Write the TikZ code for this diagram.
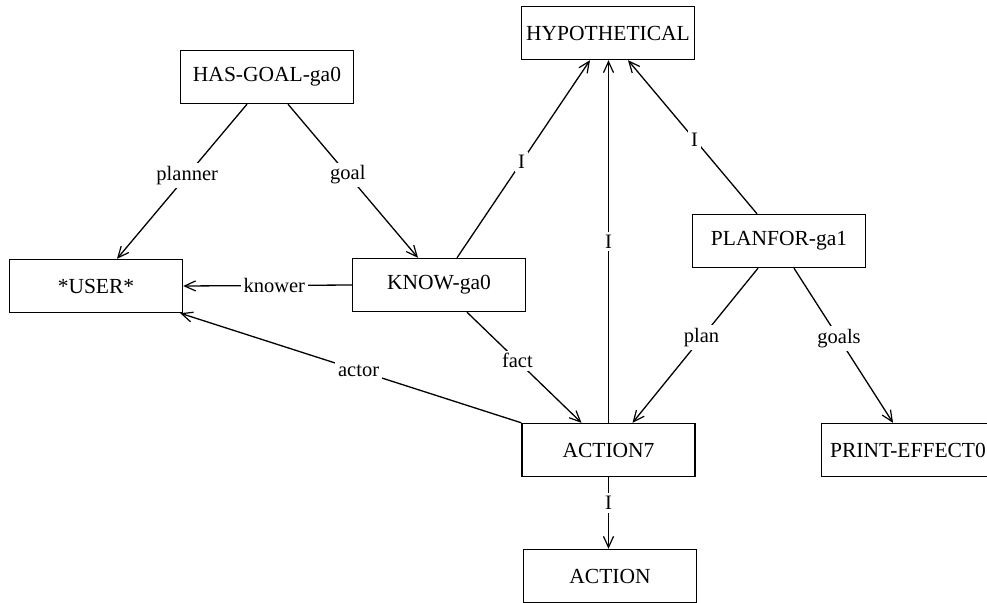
\documentclass[tikz,border=0pt]{standalone}
\usepackage{fontspec}
\setmainfont{Liberation Serif}
\usetikzlibrary{arrows.meta}
\begin{document}
\begin{tikzpicture}[x=1pt,y=-1pt,
  concept/.style={draw, line width=1.4pt, minimum width=173pt, minimum height=53pt,
    inner sep=0pt, font=\fontsize{21.5}{25}\selectfont},
  link/.style={line width=1.3pt,
    -{Straight Barb[length=11pt,width=10pt,line width=1.2pt]}},
  rel/.style={fill=white, inner sep=3pt, font=\fontsize{20.5}{24}\selectfont}]
\useasboundingbox (0,0) rectangle (987,602);
\clip (0,0) rectangle (987,602);

% concepts
\node[concept] (hypo)    at (608,33)    {HYPOTHETICAL};
\node[concept] (hasgoal) at (267,77)    {HAS-GOAL-ga0};
\node[concept] (user)    at (96,286)    {*USER*};
\node[concept] (know)    at (439,285)   {KNOW-ga0};
\node[concept] (planfor) at (779,241)   {PLANFOR-ga1};
\node[concept] (act7)    at (608.5,450) {ACTION7};
\node[concept] (action)  at (610,576)   {ACTION};
\node[concept] (print)   at (908,450)   {PRINT-EFFECT0};

% relations
\draw[link] ([xshift=-20pt]hasgoal.south) -- node[rel,pos=0.46] {planner} ([xshift=21pt]user.north);
\draw[link] ([xshift=21pt]hasgoal.south) -- node[rel,pos=0.46] {goal} ([xshift=-21pt]know.north);
\draw[link] (know.west) -- node[rel,pos=0.46] {knower} (user.east);
\draw[link] ([xshift=18pt]know.north) -- node[rel,pos=0.485] {I} ([xshift=-18pt]hypo.south);
\draw[link] ([xshift=28pt]know.south) -- node[rel,pos=0.44] {fact} ([xshift=-27pt]act7.north);
\draw[link] (act7.north west) -- node[rel,pos=0.477] {actor} ([xshift=-3pt]user.south east);
\draw[link] (act7.north) -- node[rel,pos=0.5] {I} (act7.north |- hypo.south);
\draw[link] ([xshift=-22pt]planfor.north) -- node[rel,pos=0.484] {I} ([xshift=20pt]hypo.south);
\draw[link] ([xshift=-21pt]planfor.south) -- node[rel,pos=0.45] {plan} ([xshift=24pt]act7.north);
\draw[link] ([xshift=15pt]planfor.south) -- node[rel,pos=0.455] {goals} ([xshift=-15pt]print.north);
\draw[link] (act7.south) -- node[rel,pos=0.36] {I} (act7.south |- action.north);
\end{tikzpicture}
\end{document}
